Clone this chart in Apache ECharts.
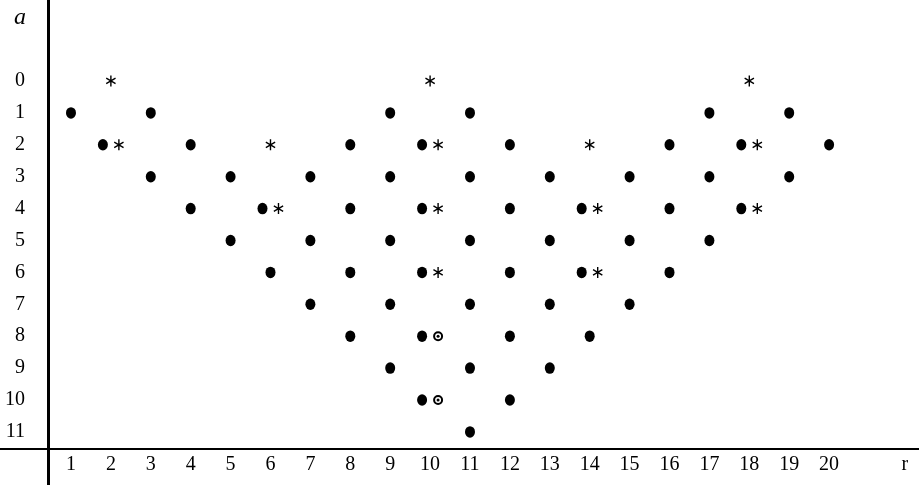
<!DOCTYPE html>
<html><head><meta charset="utf-8">
<script src="https://cdn.jsdelivr.net/npm/echarts@6/dist/echarts.min.js"></script>
<style>html,body{margin:0;padding:0;background:#fff}#c{width:919px;height:485px}</style>
</head><body><div id="c"></div>
<script>
// ---- data ----
const xTickLabels = ['1','2','3','4','5','6','7','8','9','10','11','12','13','14','15','16','17','18','19','20'];
const yTickLabels = ['0','1','2','3','4','5','6','7','8','9','10','11'];
const xAxisName = 'r';
const yAxisName = 'a';
// filled dots [r, a]
const dotPoints = [
  [1,1],[3,1],[9,1],[11,1],[17,1],[19,1],
  [2,2],[4,2],[8,2],[10,2],[12,2],[16,2],[18,2],[20,2],
  [3,3],[5,3],[7,3],[9,3],[11,3],[13,3],[15,3],[17,3],[19,3],
  [4,4],[6,4],[8,4],[10,4],[12,4],[14,4],[16,4],[18,4],
  [5,5],[7,5],[9,5],[11,5],[13,5],[15,5],[17,5],
  [6,6],[8,6],[10,6],[12,6],[14,6],[16,6],
  [7,7],[9,7],[11,7],[13,7],[15,7],
  [8,8],[10,8],[12,8],[14,8],
  [9,9],[11,9],[13,9],
  [10,10],[12,10],
  [11,11]
];
// asterisks [r, a]
const starPoints = [
  [2,0],[10,0],[18,0],
  [2,2],[6,2],[10,2],[14,2],[18,2],
  [6,4],[10,4],[14,4],[18,4],
  [10,6],[14,6]
];
// circled dots [r, a]
const odotPoints = [[10,8],[10,10]];

// ---- layout helpers ----
const FONT = '"Liberation Serif", "DejaVu Serif", serif';
const key = p => p[0] + ',' + p[1];
const dotSet = new Set(dotPoints.map(key));
const otherSet = new Set(starPoints.concat(odotPoints).map(key));

function asteriskPath() {
  const L = 1, w = 0.13;
  let d = '';
  [0, 60, 120].forEach(deg => {
    const t = deg * Math.PI / 180;
    const dx = Math.sin(t), dy = -Math.cos(t);
    const nx = -dy, ny = dx;
    const pts = [
      [ L*dx + w*nx,  L*dy + w*ny],
      [ L*dx - w*nx,  L*dy - w*ny],
      [-L*dx - w*nx, -L*dy - w*ny],
      [-L*dx + w*nx, -L*dy + w*ny]
    ];
    d += 'M' + pts.map(p => (p[0]*10).toFixed(3) + ' ' + (p[1]*10).toFixed(3)).join(' L') + ' Z ';
  });
  return 'path://' + d;
}

const chart = echarts.init(document.getElementById('c'), null, {renderer: 'canvas'});
const X0 = -0.779, X1 = 22.253, Y0 = -2.539, Y1 = 12.665;
const lineX = 0.42, lineY = 11.53;

function textSeries(name, items, size, extra) {
  return {
    type: 'scatter', name: name, symbol: 'circle', symbolSize: 2,
    itemStyle: {color: 'rgba(255,255,255,0)', opacity: 1}, z: 5,
    label: Object.assign({show: true, position: 'inside', formatter: d => d.data.text,
            fontFamily: FONT, fontSize: size, color: '#000', offset: [0, 2]}, extra || {}),
    labelLayout: {hideOverlap: false},
    data: items
  };
}

const option = {
  animation: false,
  backgroundColor: '#fff',
  grid: {left: 0, right: 0, top: 0, bottom: 0},
  xAxis: {type: 'value', min: X0, max: X1, show: false},
  yAxis: {type: 'value', min: Y0, max: Y1, inverse: true, show: false},
  series: [
    {
      type: 'scatter', name: 'frame', symbol: 'none', data: [],
      markLine: {
        silent: true, symbol: 'none', animation: false,
        label: {show: false},
        data: [
          [{coord: [lineX, Y0], lineStyle: {width: 3, color: '#000', type: 'solid', opacity: 1}},
           {coord: [lineX, Y1]}],
          [{coord: [X0, lineY], lineStyle: {width: 2, color: '#000', type: 'solid', opacity: 1}},
           {coord: [X1, lineY]}]
        ]
      }
    },
    {
      type: 'scatter', name: 'dots', symbol: 'circle', symbolSize: [10, 11.5],
      itemStyle: {color: '#000', opacity: 1},
      data: dotPoints.map(p => ({value: p, symbolOffset: otherSet.has(key(p)) ? [-8, 0] : [0, 0]}))
    },
    {
      type: 'scatter', name: 'stars', symbol: asteriskPath(), symbolSize: [10, 11],
      itemStyle: {color: '#000', opacity: 1},
      data: starPoints.map(p => ({value: p, symbolOffset: dotSet.has(key(p)) ? [8, 0] : [0, 0]}))
    },
    {
      type: 'scatter', name: 'odotRing', symbol: 'emptyCircle', symbolSize: 8,
      itemStyle: {color: '#000', borderWidth: 1.4, borderColor: '#000', opacity: 1},
      data: odotPoints.map(p => ({value: p, symbolOffset: dotSet.has(key(p)) ? [8, 0] : [0, 0]}))
    },
    {
      type: 'scatter', name: 'odotCenter', symbol: 'circle', symbolSize: 3,
      itemStyle: {color: '#000', opacity: 1},
      data: odotPoints.map(p => ({value: p, symbolOffset: dotSet.has(key(p)) ? [8, 0] : [0, 0]}))
    },
    textSeries('xLabels',
      xTickLabels.map((t, i) => ({value: [i + 1, 12.03], text: t}))
        .concat([{value: [21.9, 12.03], text: xAxisName}]), 20),
    textSeries('yLabels', yTickLabels.map((t, i) => ({value: [-0.13, i], text: t})), 20,
      {position: 'left', distance: 0}),
    textSeries('yName', [{value: [-0.28, -1.98], text: yAxisName}], 24, {fontStyle: 'italic'})
  ]
};
chart.setOption(option);
</script>
</body></html>
